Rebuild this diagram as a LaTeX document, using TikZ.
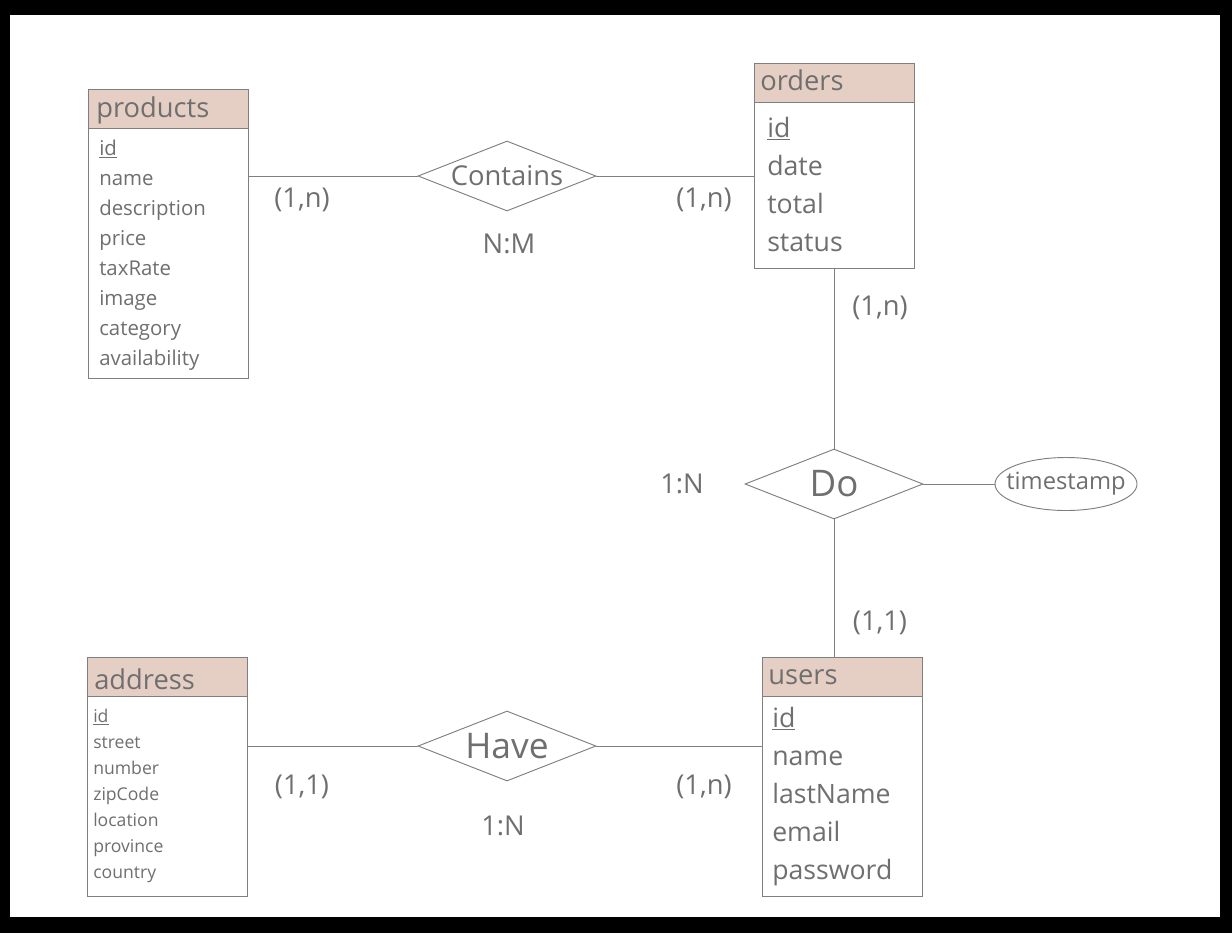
\documentclass[tikz,border=0pt]{standalone}
\usepackage{fontspec}
\setmainfont{Open Sans}
\usetikzlibrary{shapes.geometric}
\definecolor{txt}{HTML}{6F6F6F}
\definecolor{ln}{HTML}{7F7F7F}
\definecolor{hdr}{HTML}{E5CFC5}
\newcommand{\fs}[1]{\fontsize{#1pt}{#1pt}\selectfont}
\begin{document}
\begin{tikzpicture}[x=0.75pt,y=-0.75pt,
  hbox/.style={draw=ln,line width=0.8pt,fill=hdr,minimum width=120pt,minimum height=29.25pt,anchor=north west,inner sep=0pt},
  bbox/.style={draw=ln,line width=0.8pt,fill=white,minimum width=120pt,anchor=north west,inner sep=0pt},
  htxt/.style={anchor=base west,inner sep=0pt,text=txt,font=\fs{20.5}},
  pat/.style={anchor=base west,inner sep=0pt,text=txt,font=\fs{15.3}},
  oat/.style={anchor=base west,inner sep=0pt,text=txt,font=\fs{20}},
  aat/.style={anchor=base west,inner sep=0pt,text=txt,font=\fs{13.2}},
  rel/.style={draw=ln,line width=0.7pt,shape=diamond,inner sep=0pt,minimum width=133.5pt,minimum height=52.5pt},
  lbl/.style={inner sep=0pt,text=txt},
  card/.style={inner sep=0pt,text=txt,font=\fs{20.5}},
  conn/.style={draw=ln,line width=0.75pt}]
\useasboundingbox (0,0) rectangle (1232,933);
\fill[black] (0,0) rectangle (1232,933);
\fill[white] (10,15) rectangle (1220,917);

% products
\node[hbox] (prodh) at (88,89) {};
\node[bbox,minimum height=187.5pt] (prodb) at (88,128) {};
\node[htxt] (prodt) at (96,117) {products};
\node[pat] (p1) at (99,155) {\underline{id}};
\node[pat] (p2) at (99,185) {name};
\node[pat] (p3) at (99,215) {description};
\node[pat] (p4) at (99,245) {price};
\node[pat] (p5) at (99,275) {taxRate};
\node[pat] (p6) at (99,305) {image};
\node[pat] (p7) at (99,335) {category};
\node[pat] (p8) at (99,365) {availability};

% orders
\node[hbox] (ordh) at (754,63) {};
\node[bbox,minimum height=124.5pt] (ordb) at (754,102) {};
\node[htxt] (ordt) at (760,90) {orders};
\node[oat] (o1) at (767,137) {\underline{id}};
\node[oat] (o2) at (767,175) {date};
\node[oat] (o3) at (767,213) {total};
\node[oat] (o4) at (767,251) {status};

% address
\node[hbox] (addh) at (87,657) {};
\node[bbox,minimum height=150pt] (addb) at (87,696) {};
\node[htxt] (addt) at (94,689) {address};
\node[aat] (a1) at (93,722) {\underline{id}};
\node[aat] (a2) at (93,748) {street};
\node[aat] (a3) at (93,774) {number};
\node[aat] (a4) at (93,800) {zipCode};
\node[aat] (a5) at (93,826) {location};
\node[aat] (a6) at (93,852) {province};
\node[aat] (a7) at (93,878) {country};

% users
\node[hbox] (usrh) at (762,657) {};
\node[bbox,minimum height=150pt] (usrb) at (762,696) {};
\node[htxt] (usrt) at (768,684) {users};
\node[oat] (u1) at (772,727) {\underline{id}};
\node[oat] (u2) at (772,765) {name};
\node[oat] (u3) at (772,803) {lastName};
\node[oat] (u4) at (772,841) {email};
\node[oat] (u5) at (772,879) {password};

% relationships
\node[rel] (contains) at (507,176) {};
\node[lbl,font=\fs{20.5}] (containst) at (contains.center) {Contains};
\node[rel] (have) at (507,746) {};
\node[lbl,font=\fs{26.5}] (havet) at (have.center) {Have};
\node[rel] (do) at (834,484) {};
\node[lbl,font=\fs{27.5}] (dot) at (do.center) {Do};
\node[draw=ln,line width=0.7pt,shape=ellipse,inner sep=0pt,minimum width=106.5pt,minimum height=39.75pt] (ts) at (1066,484) {};
\node[lbl,font=\fs{17.8}] (tst) at (ts.center) {timestamp};

% connectors
\draw[conn] (contains.west -| prodb.east) -- (contains.west);
\draw[conn] (contains.east) -- (contains.east -| ordb.west);
\draw[conn] (ordb.south -| do.north) -- (do.north);
\draw[conn] (do.south) -- (do.south |- usrh.north);
\draw[conn] (do.east) -- (ts.west);
\draw[conn] (have.west -| addb.east) -- (have.west);
\draw[conn] (have.east) -- (have.east -| usrb.west);

% cardinalities
\node[card] (c1) at (302,200) {(1,n)};
\node[card] (c2) at (704,200) {(1,n)};
\node[card] (c3) at (509,244) {N:M};
\node[card] (c4) at (880,308) {(1,n)};
\node[card] (c5) at (682,484) {1:N};
\node[card] (c6) at (880,623) {(1,1)};
\node[card] (c7) at (302,787) {(1,1)};
\node[card] (c8) at (704,787) {(1,n)};
\node[card] (c9) at (503,826) {1:N};
\end{tikzpicture}
\end{document}
